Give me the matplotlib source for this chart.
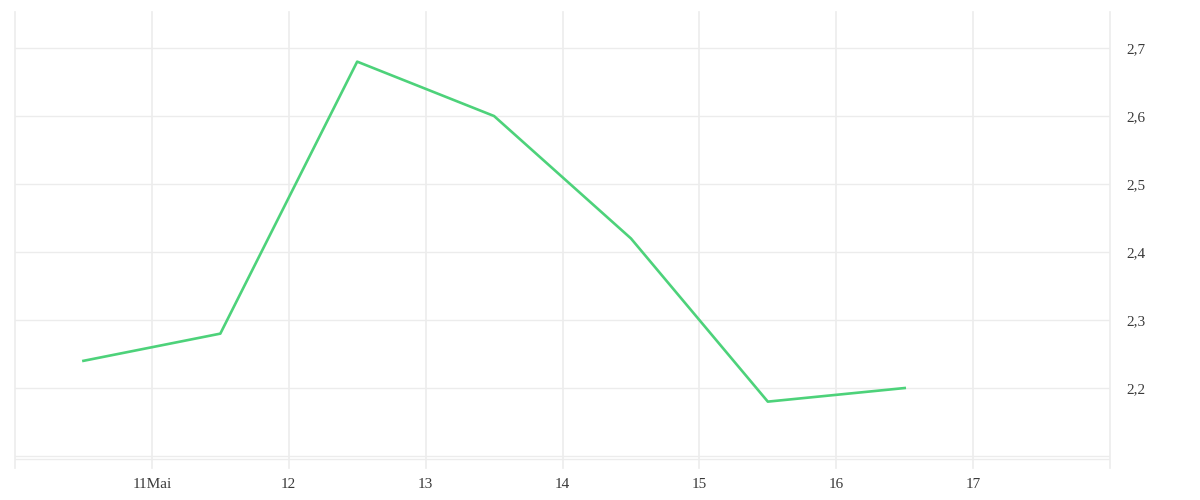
import numpy as np
import pandas as pd
import matplotlib
matplotlib.use("Agg")
import matplotlib.pyplot as plt
import matplotlib.dates as mdates

# daily values (plotted at midday)
days = pd.date_range("2024-05-10 12:00", periods=7, freq="D")
values = [2.24, 2.28, 2.68, 2.60, 2.42, 2.18, 2.20]

tick_days = pd.date_range("2024-05-11", "2024-05-17", freq="D")
tick_labels = ["11Mai", "12", "13", "14", "15", "16", "17"]
y_ticks = [2.2, 2.3, 2.4, 2.5, 2.6, 2.7]
y_labels = ["2,2", "2,3", "2,4", "2,5", "2,6", "2,7"]

grid_col = "#ececec"
plt.rcParams["font.family"] = ["Liberation Serif", "DejaVu Serif"]

fig = plt.figure(figsize=(12, 5), dpi=100)
ax = fig.add_axes([15 / 1200, 32 / 500, 1095 / 1200, 456 / 500])

x0 = pd.Timestamp("2024-05-10")
x1 = pd.Timestamp("2024-05-18")
ax.set_xlim(x0, x1)
ax.set_ylim(2.0824, 2.753)

# horizontal gridlines
for y in [2.1] + y_ticks:
    ax.axhline(y, color=grid_col, lw=1, zorder=0)
ax.axhline(2.0956, color=grid_col, lw=1, zorder=0)

# vertical gridlines, including the frame edges
for d in pd.date_range(x0, x1, freq="D"):
    ax.axvline(d, color=grid_col, lw=1.2, zorder=0, clip_on=False)

ax.plot(days, values, color="#4dd27a", lw=1.9, zorder=3)

for s in ax.spines.values():
    s.set_visible(False)

ax.set_xticks(tick_days)
ax.set_xticklabels(tick_labels)
ax.tick_params(axis="x", length=0, pad=7, labelsize=11, colors="#3a3a3a")
ax.yaxis.tick_right()
ax.set_yticks(y_ticks)
ax.set_yticklabels(y_labels, va="center_baseline")
ax.tick_params(axis="y", length=0, pad=12, labelsize=11, colors="#3a3a3a")

fig.savefig("out.png", dpi=100, facecolor="white")
